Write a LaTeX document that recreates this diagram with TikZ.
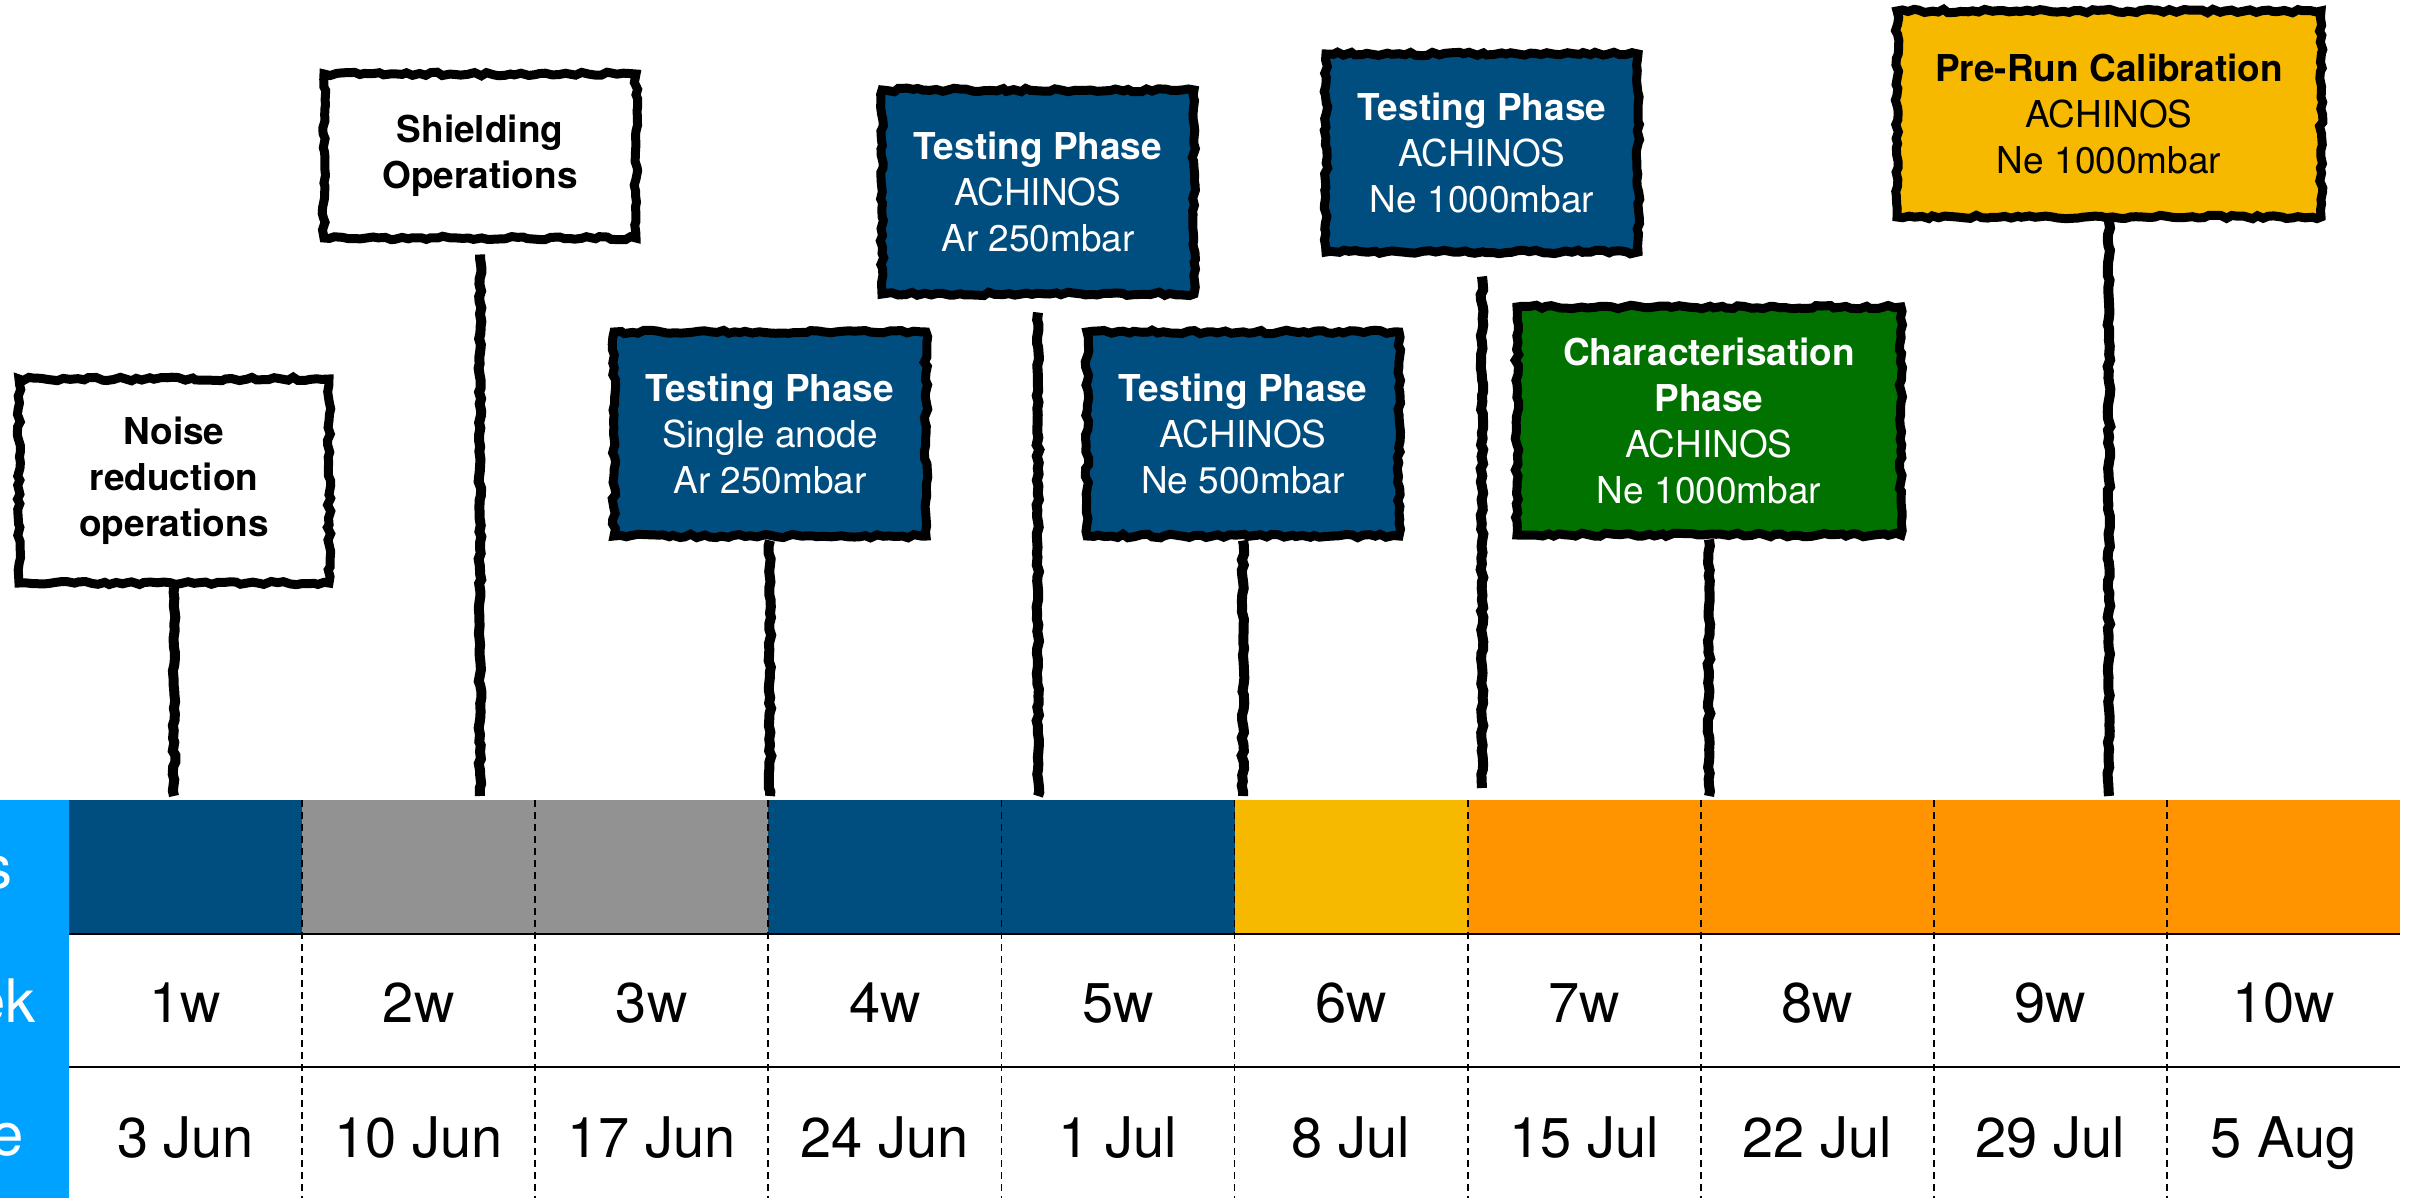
\documentclass[tikz,border=0pt]{standalone}
\usepackage{fontspec}
\setmainfont{TeX Gyre Heros}
\usepackage{tikz}
\usetikzlibrary{decorations.pathmorphing,positioning,calc}

\definecolor{phaseblue}{HTML}{004D80}
\definecolor{phasegray}{HTML}{929292}
\definecolor{phaseyellow}{HTML}{F6B900}
\definecolor{phaseorange}{HTML}{FF9300}
\definecolor{phasegreen}{HTML}{017100}
\definecolor{sideblue}{HTML}{00A2FF}

\tikzset{
  sign/.style={draw=black, line width=4.5pt, decorate,
    decoration={random steps, segment length=3pt, amplitude=0.9pt},
    align=center, inner sep=0pt, minimum width=156pt, minimum height=102pt,
    font=\fontsize{18.5}{23}\selectfont},
  signbold/.style={sign, font=\fontsize{18.5}{23}\selectfont\bfseries},
  post/.style={line width=5pt, decorate,
    decoration={random steps, segment length=3pt, amplitude=0.7pt}},
  cell/.style={anchor=base, font=\fontsize{28}{34}\selectfont},
  sidelabel/.style={anchor=base east, inner sep=0pt, text=white, font=\fontsize{30}{36}\selectfont},
  divider/.style={line width=0.9pt, dash pattern=on 3.5pt off 2.5pt}
}

\begin{document}
\begin{tikzpicture}[x=0.5pt,y=-0.5pt]
  \pgfmathsetseed{11}
  \useasboundingbox (0,0) rectangle (2416,1198);
  \coordinate (bar) at (0,796);

  \fill[sideblue] (0,800) rectangle (69,1198);
  \foreach \c/\col in {0/phaseblue,1/phasegray,2/phasegray,3/phaseblue,4/phaseblue,
                       5/phaseyellow,6/phaseorange,7/phaseorange,8/phaseorange,9/phaseorange}
    \fill[\col] ({69+233.1*\c},800) rectangle ({69+233.1*(\c+1)},934);

  \foreach \w/\d [count=\i] in {1w/3 Jun,2w/10 Jun,3w/17 Jun,4w/24 Jun,5w/1 Jul,
                                6w/8 Jul,7w/15 Jul,8w/22 Jul,9w/29 Jul,10w/5 Aug}
  {
    \node[cell] (week\i) at ({69+233.1*(\i-0.5)},1022) {\w};
    \node[cell] (date\i) at ({69+233.1*(\i-0.5)},1157) {\d};
  }

  \draw[line width=1pt] (69,934) -- (2400,934);
  \draw[line width=1pt] (69,1067) -- (2400,1067);
  \foreach \c in {1,...,9}
    \draw[divider] ({69+233.1*\c},800) -- ({69+233.1*\c},1198);

  \node[sidelabel] (phases) at (13,888) {s};
  \node[sidelabel] (week) at (36,1022) {ek};
  \node[sidelabel] (date) at (24,1155) {e};

  \node[signbold, fill=white, minimum width=155pt] (noise) at (174,481)
    {Noise\\reduction\\operations};
  \node[signbold, fill=white, minimum height=82pt] (shield) at (480,156)
    {Shielding\\Operations};
  \node[sign, fill=phaseblue, text=white] (single) at (770,434)
    {\textbf{Testing Phase}\\Single anode\\Ar 250mbar};
  \node[sign, fill=phaseblue, text=white] (arlow) at (1038,192)
    {\textbf{Testing Phase}\\ACHINOS\\Ar 250mbar};
  \node[sign, fill=phaseblue, text=white] (nelow) at (1243,434)
    {\textbf{Testing Phase}\\ACHINOS\\Ne 500mbar};
  \node[sign, fill=phaseblue, text=white, minimum height=99pt] (nehigh) at (1482,153)
    {\textbf{Testing Phase}\\ACHINOS\\Ne 1000mbar};
  \node[sign, fill=phasegreen, text=white, minimum width=192pt, minimum height=114pt] (charac) at (1709,421)
    {\textbf{Characterisation}\\\textbf{Phase}\\ACHINOS\\Ne 1000mbar};
  \node[sign, fill=phaseyellow, minimum width=212pt, minimum height=103pt] (prerun) at (2109,114)
    {\textbf{Pre-Run Calibration}\\ACHINOS\\Ne 1000mbar};

  \draw[post] (noise.south) -- (noise.south |- bar);
  \draw[post] ([yshift=-6pt]shield.south) -- (shield.south |- bar);
  \draw[post] (single.south) -- (single.south |- bar);
  \draw[post] ([yshift=-7pt]arlow.south) -- (arlow.south |- bar);
  \draw[post] (nelow.south) -- (nelow.south |- bar);
  \draw[post] ([yshift=-10pt]nehigh.south) -- ([yshift=4pt]nehigh.south |- bar);
  \draw[post] (charac.south) -- (charac.south |- bar);
  \draw[post] (prerun.south) -- (prerun.south |- bar);
\end{tikzpicture}
\end{document}
